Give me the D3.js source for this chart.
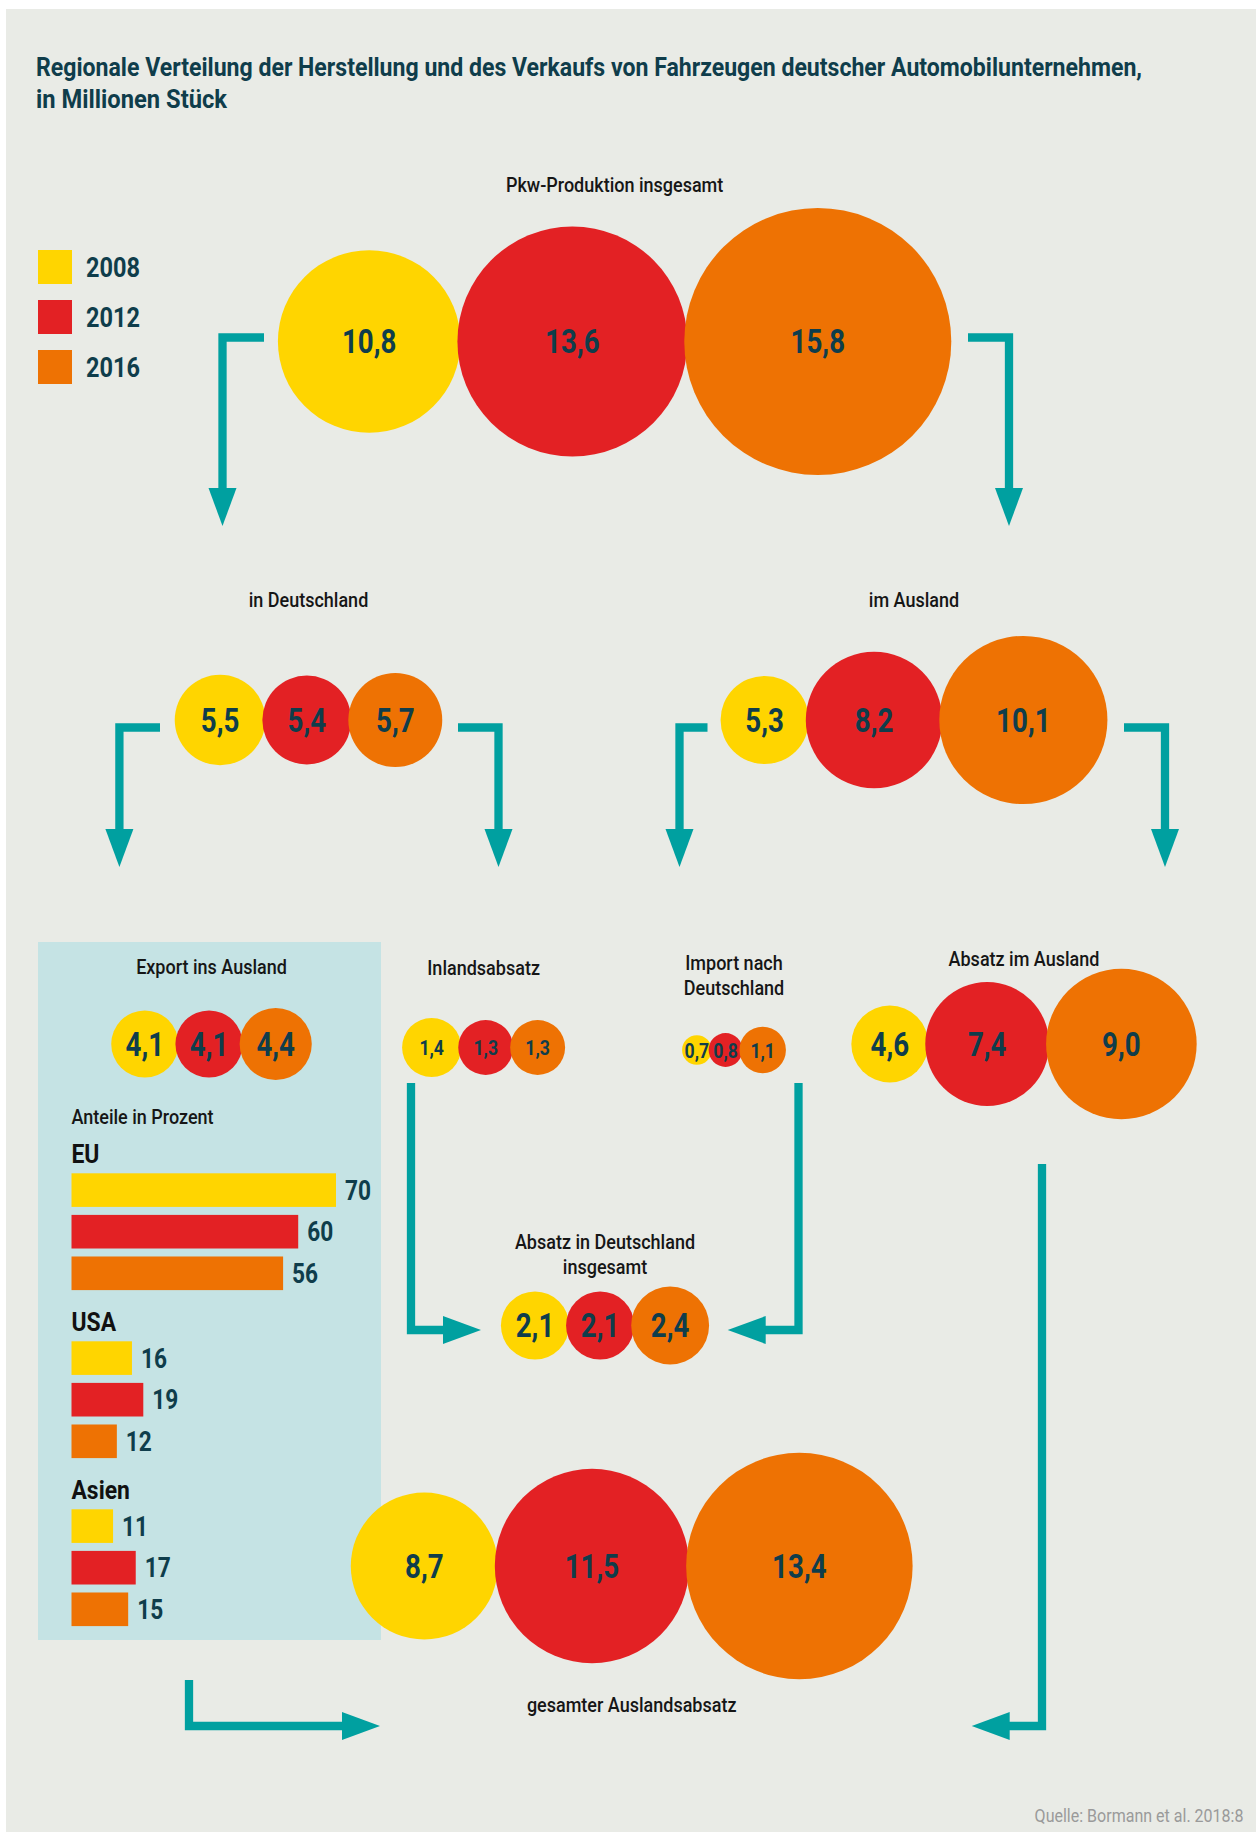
<!DOCTYPE html>
<html lang="de">
  <head>
    <meta charset="UTF-8" />
    <title>Fahrzeuge deutscher Automobilunternehmen</title>
    <script src="https://d3js.org/d3.v7.min.js"></script>
    <style>
      body { margin: 0; background: #fff; }
      svg { display: block; }
    </style>
  </head>
  <body>
    <svg width="1256" height="1832"></svg>
    <script>
      // Daten (Millionen Stück), je 2008 / 2012 / 2016
      var years = ['2008', '2012', '2016']
      var pkwProduktion = [10.8, 13.6, 15.8]
      var inDeutschland = [5.5, 5.4, 5.7]
      var imAusland = [5.3, 8.2, 10.1]
      var exportInsAusland = [4.1, 4.1, 4.4]
      var inlandsabsatz = [1.4, 1.3, 1.3]
      var importNachDeutschland = [0.7, 0.8, 1.1]
      var absatzImAusland = [4.6, 7.4, 9.0]
      var absatzInDeutschland = [2.1, 2.1, 2.4]
      var gesamterAuslandsabsatz = [8.7, 11.5, 13.4]

      // Anteile des Exports in Prozent
      var regions = ['EU', 'USA', 'Asien']
      var anteilEU = [70, 60, 56]
      var anteilUSA = [16, 19, 12]
      var anteilAsien = [11, 17, 15]

      var colors = ['#ffd500', '#e32124', '#ee7203']
      var teal = '#00a0a0'
      var dark = '#0f3d4b'
      var squeeze = 0.84   // schmale Schrift nachbilden

      var svg = d3.select('svg')
      svg.style('font-family', 'Roboto, "Noto Sans", sans-serif')

      // Hintergrund
      svg.append('rect')
        .attr('x', 6).attr('y', 9)
        .attr('width', 1250).attr('height', 1823)
        .attr('fill', '#e9ebe6')

      // Titel
      var titleLines = [
        { text: 'Regionale Verteilung der Herstellung und des Verkaufs von Fahrzeugen deutscher Automobilunternehmen,', y: 76, w: 1106 },
        { text: 'in Millionen Stück', y: 108, w: 191 }
      ]
      svg.selectAll('.title')
        .data(titleLines)
        .enter()
        .append('text')
        .attr('class', 'title fixed')
        .attr('x', 36)
        .attr('y', function(d) { return d.y })
        .attr('fill', dark)
        .attr('font-size', 26)
        .attr('font-weight', 'bold')
        .attr('textLength', function(d) { return d.w })
        .attr('lengthAdjust', 'spacingAndGlyphs')
        .text(function(d) { return d.text })

      var colorScale = d3.scaleOrdinal().domain(years).range(colors)

      // Legende
      var legend = svg.append('g').selectAll('g')
        .data(years)
        .enter()
        .append('g')
        .attr('transform', function(d, i) { return 'translate(38,' + (250 + i * 50) + ')' })
      legend.append('rect')
        .attr('width', 34).attr('height', 34)
        .attr('fill', function(d) { return colorScale(d) })
      legend.append('text')
        .attr('x', 48).attr('y', 27)
        .attr('fill', dark)
        .attr('font-size', 28)
        .attr('font-weight', 'bold')
        .text(function(d) { return d })

      // Panel "Export ins Ausland"
      svg.append('rect')
        .attr('x', 38).attr('y', 942)
        .attr('width', 343).attr('height', 698)
        .attr('fill', '#c5e3e4')

      // Pfeile
      var connectors = [
        [[264, 337.5], [222.5, 337.5], [222.5, 526]],
        [[968, 337.5], [1009, 337.5], [1009, 526]],
        [[160, 727.5], [119.4, 727.5], [119.4, 867]],
        [[458, 727.5], [498.5, 727.5], [498.5, 867]],
        [[707.5, 727.5], [679.5, 727.5], [679.5, 867]],
        [[1124, 727.5], [1165, 727.5], [1165, 867]],
        [[411, 1083], [411, 1330], [481, 1330]],
        [[798.5, 1083], [798.5, 1330], [727.7, 1330]],
        [[1042, 1164], [1042, 1726], [971.7, 1726]],
        [[189, 1680], [189, 1726], [380, 1726]]
      ]
      var headLen = 38
      var headHalf = 14
      var line = d3.line()
      var arrows = svg.append('g')
      connectors.forEach(function(pts) {
        var n = pts.length
        var tip = pts[n - 1]
        var prev = pts[n - 2]
        var dx = tip[0] - prev[0]
        var dy = tip[1] - prev[1]
        var len = Math.sqrt(dx * dx + dy * dy)
        var ux = dx / len
        var uy = dy / len
        var base = [tip[0] - ux * headLen, tip[1] - uy * headLen]
        var shaft = pts.slice(0, n - 1).concat([[base[0] + ux, base[1] + uy]])
        arrows.append('path')
          .attr('d', line(shaft))
          .attr('fill', 'none')
          .attr('stroke', teal)
          .attr('stroke-width', 8.3)
          .attr('stroke-linejoin', 'miter')
        arrows.append('path')
          .attr('d', line([
            tip,
            [base[0] - uy * headHalf, base[1] + ux * headHalf],
            [base[0] + uy * headHalf, base[1] - ux * headHalf]
          ]) + 'Z')
          .attr('fill', teal)
      })

      // Kreisgruppen
      var fmt = d3.formatLocale({ decimal: ',', thousands: '.', grouping: [3], currency: ['', ' €'] }).format('.1f')
      var radius = d3.scaleLinear().domain([0, 1]).range([0, 8.45])
      var overlap = 3

      var groups = [
        { values: pkwProduktion, label: ['Pkw-Produktion insgesamt'], cx: 614.6, cy: 341.5, k: 1, labelY: 191.5, fs: 33 },
        { values: inDeutschland, label: ['in Deutschland'], cx: 308.5, cy: 720, k: 0.975, labelY: 607, fs: 33 },
        { values: imAusland, label: ['im Ausland'], cx: 914, cy: 720, k: 0.985, labelY: 607, fs: 33 },
        { values: exportInsAusland, label: ['Export ins Ausland'], cx: 211.5, cy: 1044, k: 0.97, labelY: 974, fs: 33 },
        { values: inlandsabsatz, label: ['Inlandsabsatz'], cx: 483.6, cy: 1047.5, k: 2.5, labelY: 975, fs: 21 },
        { values: importNachDeutschland, label: ['Import nach', 'Deutschland'], cx: 734, cy: 1050, k: 2.5, labelY: 970, fs: 21 },
        { values: absatzImAusland, label: ['Absatz im Ausland'], cx: 1024, cy: 1044, k: 0.99, labelY: 966, fs: 33 },
        { values: absatzInDeutschland, label: ['Absatz in Deutschland', 'insgesamt'], cx: 605, cy: 1325.5, k: 1.92, labelY: 1249, fs: 33 },
        { values: gesamterAuslandsabsatz, label: ['gesamter Auslandsabsatz'], cx: 631.7, cy: 1566, k: 1, labelY: 1711.5, fs: 33 }
      ]

      groups.forEach(function(grp) {
        var rs = grp.values.map(function(v) { return radius(v) * grp.k })
        var xs = []
        var x = 0
        rs.forEach(function(r, i) {
          if (i > 0) x += rs[i - 1] + r - overlap
          xs.push(x)
        })
        var left = xs[0] - rs[0]
        var right = xs[xs.length - 1] + rs[rs.length - 1]
        var shift = grp.cx - (left + right) / 2

        var g = svg.append('g')
        var nodes = g.selectAll('g')
          .data(grp.values)
          .enter()
          .append('g')
          .attr('transform', function(d, i) { return 'translate(' + (xs[i] + shift) + ',' + grp.cy + ')' })
        nodes.append('circle')
          .attr('r', function(d, i) { return rs[i] })
          .attr('fill', function(d, i) { return colorScale(years[i]) })
        nodes.append('text')
          .attr('text-anchor', 'middle')
          .attr('y', grp.fs * 0.36)
          .attr('fill', dark)
          .attr('font-size', grp.fs)
          .attr('font-weight', 'bold')
          .text(function(d) { return fmt(d) })

        g.selectAll('.label')
          .data(grp.label)
          .enter()
          .append('text')
          .attr('class', 'label')
          .attr('data-sq', 0.9)
          .attr('x', grp.cx)
          .attr('y', function(d, i) { return grp.labelY + i * 24.5 })
          .attr('text-anchor', 'middle')
          .attr('fill', '#161616')
          .attr('font-size', 20)
          .attr('font-weight', 500)
          .text(function(d) { return d })
      })

      // Balken: Anteile in Prozent
      var shares = [anteilEU, anteilUSA, anteilAsien]
      var barX = d3.scaleLinear().domain([0, 70]).range([71.5, 336])
      var regionY = d3.scaleBand().domain(regions).range([1173.3, 1173.3 + 3 * 168])
      var yearY = d3.scaleBand().domain(years).range([0, 116.8]).paddingInner(0.192)

      svg.append('text')
        .attr('data-sq', 0.9)
        .attr('x', 71.5).attr('y', 1124)
        .attr('fill', '#161616')
        .attr('font-size', 20)
        .attr('font-weight', 500)
        .text('Anteile in Prozent')

      var regionG = svg.append('g').selectAll('g')
        .data(regions)
        .enter()
        .append('g')
        .attr('transform', function(d) { return 'translate(0,' + regionY(d) + ')' })
      regionG.append('text')
        .attr('data-sq', 0.88)
        .attr('x', 71.5).attr('y', -10)
        .attr('fill', '#111')
        .attr('font-size', 26)
        .attr('font-weight', 'bold')
        .text(function(d) { return d })
      regionG.selectAll('rect')
        .data(function(d, i) { return shares[i] })
        .enter()
        .append('rect')
        .attr('x', barX(0))
        .attr('y', function(d, i) { return yearY(years[i]) })
        .attr('width', function(d) { return barX(d) - barX(0) })
        .attr('height', yearY.bandwidth())
        .attr('fill', function(d, i) { return colorScale(years[i]) })
      regionG.selectAll('.val')
        .data(function(d, i) { return shares[i] })
        .enter()
        .append('text')
        .attr('class', 'val')
        .attr('x', function(d) { return barX(d) + 9 })
        .attr('y', function(d, i) { return yearY(years[i]) + yearY.bandwidth() / 2 + 9.5 })
        .attr('fill', dark)
        .attr('font-size', 27)
        .attr('font-weight', 'bold')
        .text(function(d) { return d })

      // Quelle
      svg.append('text')
        .attr('data-sq', 0.89)
        .attr('x', 1243.5).attr('y', 1821.5)
        .attr('text-anchor', 'end')
        .attr('fill', '#9a9a9a')
        .attr('font-size', 18)
        .text('Quelle: Bormann et al. 2018:8')

      // alle übrigen Texte schmaler setzen
      svg.selectAll('text:not(.fixed)').each(function() {
        var sel = d3.select(this)
        var sq = sel.attr('data-sq') ? +sel.attr('data-sq') : squeeze
        var w = this.getComputedTextLength()
        sel.attr('textLength', w * sq)
          .attr('lengthAdjust', 'spacingAndGlyphs')
      })
    </script>
  </body>
</html>
